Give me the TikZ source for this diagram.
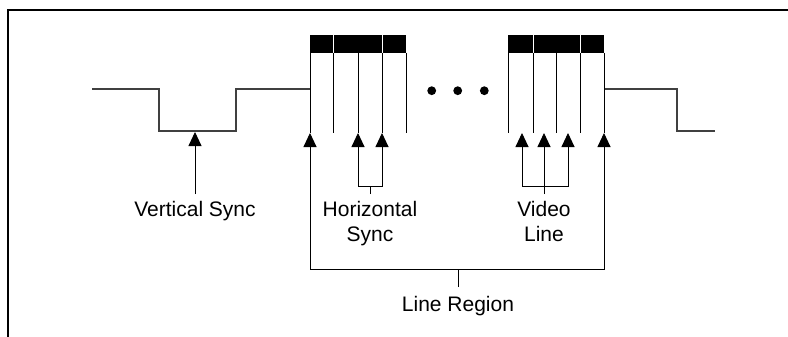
\documentclass[tikz,border=0pt]{standalone}
\usepackage{fontspec}
\setmainfont{Liberation Sans}
\usetikzlibrary{arrows.meta}
\tikzset{
  signal/.style={line width=1.2pt, black!75},
  tick/.style={line width=0.8pt},
  pointer/.style={line width=0.9pt, ->, >={Triangle[width=13pt,length=14pt]}},
  txt/.style={font=\fontsize{21}{25}\selectfont, inner sep=0pt, outer sep=7pt, align=center, anchor=north}
}
\begin{document}
\begin{tikzpicture}[x=1pt,y=-1pt]
  \useasboundingbox (0,0) rectangle (788,337);
  \draw[line width=2.5pt] (8,337) -- (8,10) -- (788,10);

  \draw[signal] (92,89) -- (159,89) -- (159,131) -- (236,131) -- (236,89) -- (310,89);
  \draw[signal] (604,89) -- (677,89) -- (677,131) -- (715,131);

  \fill (310,35) rectangle (406,53);
  \fill (508,35) rectangle (604,53);
  \foreach \x in {333,382,533,580} \draw[white, line width=0.8pt] (\x,35) -- (\x,53);
  \foreach \x in {310,333,358,382,406,508,533,556,580,604} \draw[tick] (\x,53) -- (\x,133);
  \foreach \x in {431.7,457.7,484.3} \fill (\x,90.7) circle (4.4pt);

  \node[txt] (vsync) at (195,194) {Vertical Sync};
  \node[txt] (hsync) at (370,194) {Horizontal\\Sync};
  \node[txt] (vline) at (544,194) {Video\\Line};
  \node[txt, outer sep=9pt] (region) at (458,287) {Line Region};

  \coordinate (vs) at (195,132);
  \coordinate (h1) at (358,133);
  \coordinate (h2) at (382,133);
  \coordinate (v1) at (522,133);
  \coordinate (v2) at (544,133);
  \coordinate (v3) at (568,133);
  \coordinate (r1) at (310,133);
  \coordinate (r2) at (604,133);
  \coordinate (hbar) at (370,186);
  \coordinate (vbar) at (544,186);
  \coordinate (rbar) at (458,269);

  \draw[pointer] (vsync) -- (vs);
  \draw[pointer] (hsync) -- (hbar) -| (h1);
  \draw[pointer] (hbar) -| (h2);
  \draw[pointer] (vline) -- (v2);
  \draw[pointer] (vbar) -| (v1);
  \draw[pointer] (vbar) -| (v3);
  \draw[pointer] (region) -- (rbar) -| (r1);
  \draw[pointer] (rbar) -| (r2);
\end{tikzpicture}
\end{document}
